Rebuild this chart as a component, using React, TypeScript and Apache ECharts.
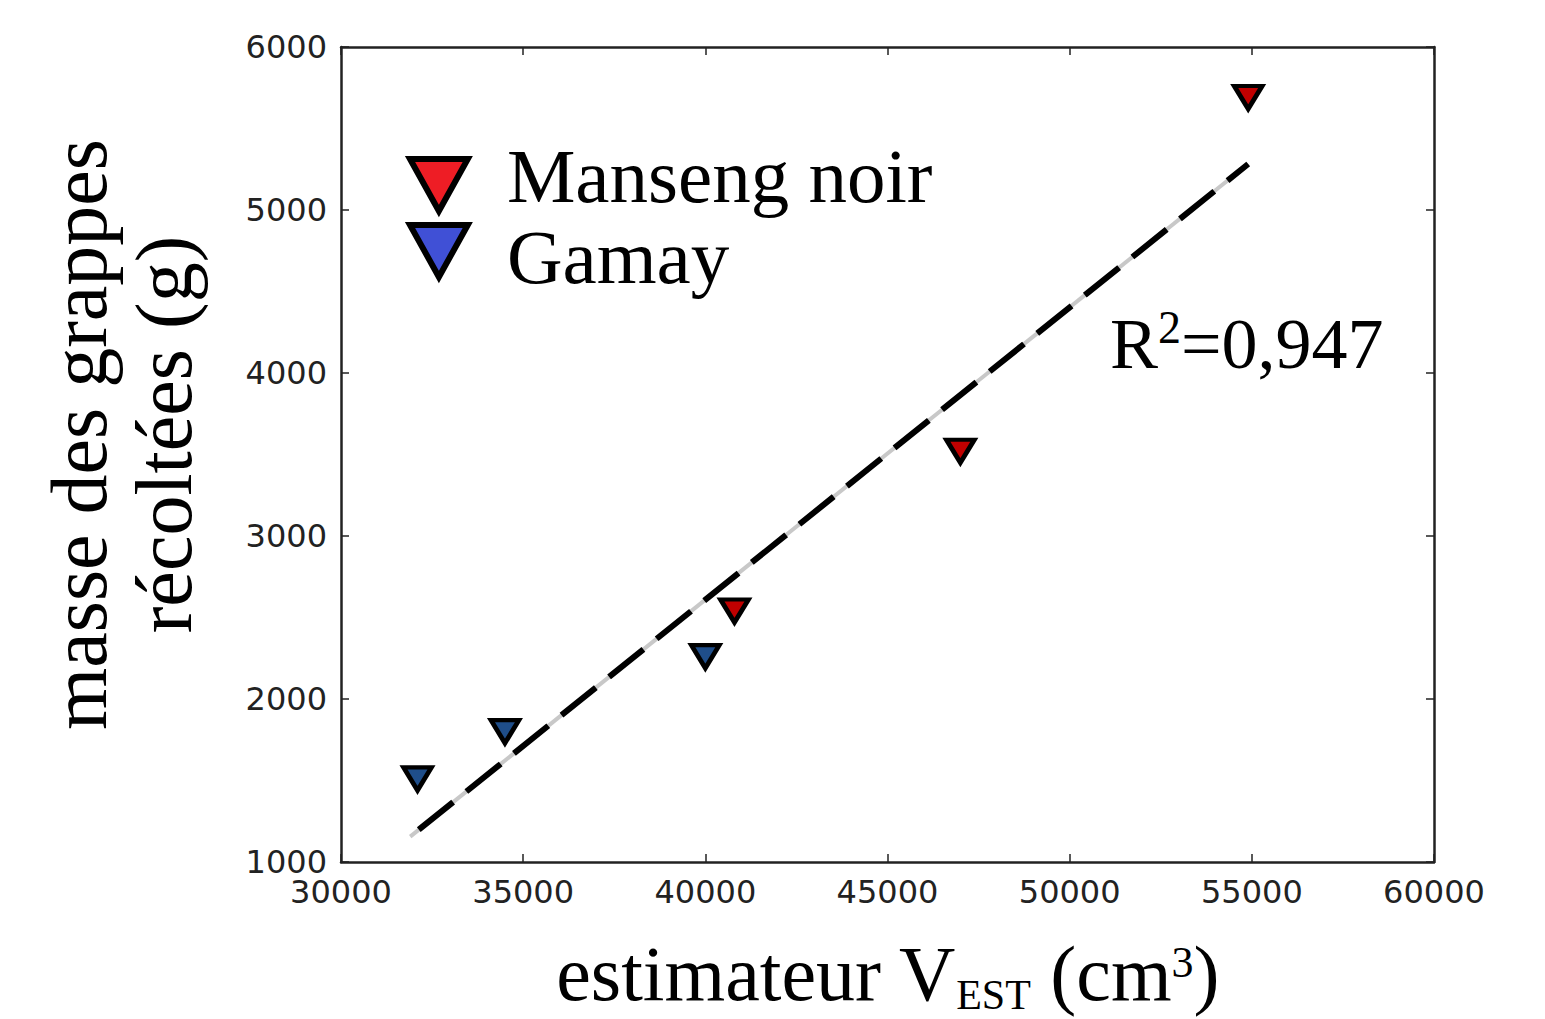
import React, { useEffect, useRef } from "react";
import * as echarts from "echarts";

// ---- data ----
const seriesNames = ["Manseng noir", "Gamay"];
const mansengX = [40800, 47000, 54900];
const mansengY = [2540, 3520, 5690];
const gamayX = [32100, 34500, 40000];
const gamayY = [1510, 1800, 2260];
const fitX = [31900, 54900];
const fitY = [1156, 5282];
const xRange = [30000, 60000];
const xStep = 5000;
const yRange = [1000, 6000];
const yStep = 1000;
const r2Text = ["R", "2", "=0,947"];
const xName = ["estimateur V", "EST", " (cm", "3", ")"];
const yName = "masse des grappes\nrécoltées (g)";

const SERIF = "'Liberation Serif', 'DejaVu Serif', serif";
const SANS = "'DejaVu Sans', sans-serif";
const TRI = "path://M0,0L100,0L50,86Z";
const TRI_LEGEND = "path://M0,0L60,0L30,54Z";

const pairs = (xs: number[], ys: number[]) => xs.map((x, i) => [x, ys[i]]);

export default function App() {
  const ref = useRef<HTMLDivElement>(null);
  useEffect(() => {
    if (!ref.current) return;
    const chart = echarts.init(ref.current, undefined, { renderer: "svg" });
    const axisLine = { show: true, onZero: false, lineStyle: { color: "#222", width: 2.5 } };
    const axisTick = { show: true, inside: true, length: 8, lineStyle: { color: "#222", width: 1.5 } };
    const tickFont = { fontFamily: SANS, fontSize: 32, color: "#222", formatter: (v: number) => String(v) };
    const option: any = {
      animation: false,
      backgroundColor: "#fff",
      grid: { left: 341, right: 111, top: 47, bottom: 157, containLabel: false, outerBoundsMode: "none" },
      xAxis: [
        {
          type: "value", min: xRange[0], max: xRange[1], interval: xStep, position: "bottom",
          axisLine, axisTick, splitLine: { show: false },
          axisLabel: { ...tickFont, margin: 14, showMinLabel: true, showMaxLabel: true },
          name: `{a|${xName[0]}}{sub|${xName[1]}}{a|${xName[2]}}{sup|${xName[3]}}{a|${xName[4]}}`,
          nameLocation: "middle", nameGap: 63,
          nameTextStyle: {
            rich: {
              a: { fontFamily: SERIF, fontSize: 78, lineHeight: 96, color: "#000" },
              sub: { fontFamily: SERIF, fontSize: 42, lineHeight: 20, padding: [43, 0, 0, 0], verticalAlign: "middle", color: "#000" },
              sup: { fontFamily: SERIF, fontSize: 44, lineHeight: 44, padding: [0, 0, 22, 0], verticalAlign: "middle", color: "#000" },
            },
          },
        },
        {
          type: "value", min: xRange[0], max: xRange[1], interval: xStep, position: "top",
          axisLine, axisTick, splitLine: { show: false }, axisLabel: { show: false },
        },
      ],
      yAxis: [
        {
          type: "value", min: yRange[0], max: yRange[1], interval: yStep, position: "left",
          axisLine, axisTick, splitLine: { show: false },
          axisLabel: { ...tickFont, margin: 14, showMinLabel: true, showMaxLabel: true },
          name: yName, nameLocation: "middle", nameRotate: 90, nameGap: 135,
          nameTextStyle: { fontFamily: SERIF, fontSize: 80, lineHeight: 85, color: "#000", padding: [0, 0, 0, 40] },
        },
        {
          type: "value", min: yRange[0], max: yRange[1], interval: yStep, position: "right",
          axisLine, axisTick, splitLine: { show: false }, axisLabel: { show: false },
        },
      ],
      legend: {
        orient: "vertical", left: 407, top: 137.5, padding: 0, itemWidth: 58, itemHeight: 52, itemGap: 4,
        icon: TRI_LEGEND,
        formatter: (name: string) => (name === seriesNames[0] ? `{t|${name}}` : `{g|${name}}`),
        textStyle: {
          fontFamily: SERIF, fontSize: 77, color: "#000",
          rich: {
            t: { fontFamily: SERIF, fontSize: 77, padding: [4, 0, 22, 34], color: "#000" },
            g: { fontFamily: SERIF, fontSize: 77, padding: [19, 0, 7, 34], color: "#000" },
          },
        },
        data: [
          { name: seriesNames[0], itemStyle: { color: "#ee1d25", borderColor: "#000", borderWidth: 6 } },
          { name: seriesNames[1], itemStyle: { color: "#4050d6", borderColor: "#000", borderWidth: 6 } },
        ],
      },
      graphic: [
        {
          type: "text", x: 1110, y: 304, silent: true,
          style: {
            text: `{a|${r2Text[0]}}{s|${r2Text[1]}}{a|${r2Text[2]}}`,
            align: "left", verticalAlign: "top",
            rich: {
              a: { fontFamily: SERIF, fontSize: 72, lineHeight: 80, fill: "#000", color: "#000" },
              s: { fontFamily: SERIF, fontSize: 46, lineHeight: 56, verticalAlign: "top", fill: "#000", color: "#000" },
            },
          },
        },
      ],
      series: [
        {
          type: "line", name: "fit-bg", data: pairs(fitX, fitY), symbol: "none", silent: true,
          lineStyle: { color: "#c8c8c8", width: 4 }, z: 1,
        },
        {
          type: "line", name: "fit", data: pairs(fitX, fitY), symbol: "none", silent: true,
          lineStyle: { color: "#000", width: 6, type: [44, 17], dashOffset: 50 }, z: 2,
        },
        {
          type: "scatter", name: seriesNames[0], data: pairs(mansengX, mansengY),
          symbol: TRI, symbolSize: [28, 23], z: 3,
          itemStyle: { color: "#c00000", borderColor: "#000", borderWidth: 4.5, opacity: 1 },
        },
        {
          type: "scatter", name: seriesNames[1], data: pairs(gamayX, gamayY),
          symbol: TRI, symbolSize: [28, 23], z: 3,
          itemStyle: { color: "#1f4e8a", borderColor: "#000", borderWidth: 4.5, opacity: 1 },
        },
      ],
    };
    chart.setOption(option);
    return () => chart.dispose();
  }, []);
  return (
    <div
      ref={ref}
      style={{ position: "fixed", left: 0, top: 0, width: 1545, height: 1019, background: "#fff" }}
    />
  );
}
